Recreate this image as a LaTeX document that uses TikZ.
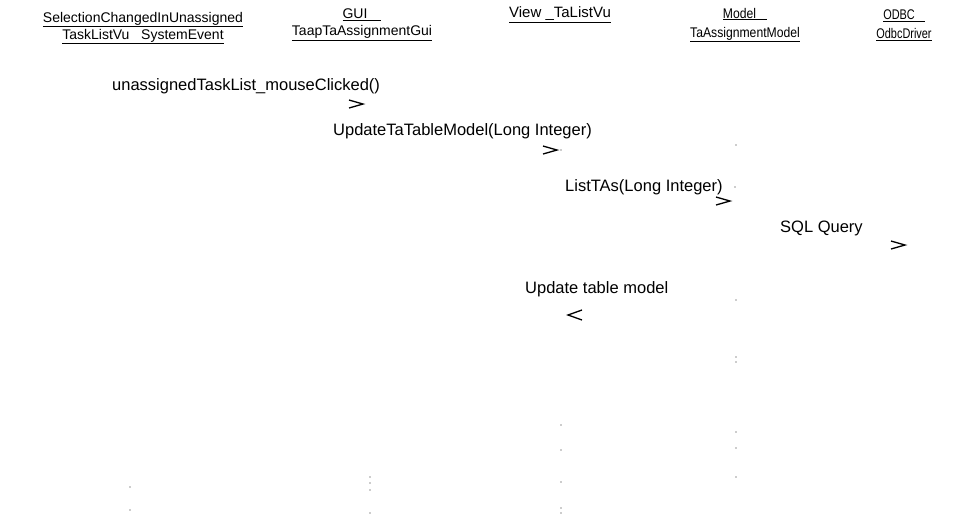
\documentclass[tikz,border=0pt]{standalone}
\usepackage{fontspec}
\setmainfont{Liberation Sans}
\usetikzlibrary{positioning}

\tikzset{
  lifehead/.style={align=center, inner sep=0pt, font=\fontsize{14}{17}\selectfont},
  msglabel/.style={anchor=west, inner sep=0pt, font=\fontsize{16.5}{19}\selectfont},
  msgtip/.style={line width=1.3pt, line join=miter},
  lifedot/.style={fill=black!40}
}

\begin{document}
\begin{tikzpicture}[x=1pt, y=-1pt]
  \useasboundingbox (0,0) rectangle (958,520);

  % Object headers
  \node[lifehead] (sysevent) at (143,28) {\underline{SelectionChangedInUnassigned}\\\underline{TaskListVu\ \ \ SystemEvent}};
  \node[lifehead] (gui) at (362,25) {\underline{GUI\hspace{1em}}\\\underline{TaapTaAssignmentGui}};
  \node[lifehead, font=\fontsize{15}{17}\selectfont] (view) at (560,15) {\underline{View \_TaListVu}};
  \node[lifehead, font=\fontsize{14}{19}\selectfont] (model) at (745,25) {\scalebox{0.87}[1]{\underline{Model\hspace{0.9em}}}\\\scalebox{0.87}[1]{\underline{TaAssignmentModel}}};
  \node[lifehead, font=\fontsize{14}{19}\selectfont] (odbc) at (904,25) {\scalebox{0.78}[1]{\underline{ODBC\hspace{0.9em}}}\\\scalebox{0.78}[1]{\underline{OdbcDriver}}};

  % Message labels
  \node[msglabel] (clicked) at (112,86) {unassignedTaskList\_mouseClicked()};
  \node[msglabel] (update) at (333,131) {UpdateTaTableModel(Long Integer)};
  \node[msglabel] (listtas) at (565,187) {ListTAs(Long Integer)};
  \node[msglabel] (sql) at (780,228) {SQL Query};
  \node[msglabel] (reply) at (525,289) {Update table model};

  % Arrow heads (the shafts have faded away)
  \coordinate (t1) at (363,104);
  \coordinate (t2) at (557,150);
  \coordinate (t3) at (730,201);
  \coordinate (t4) at (905,245);
  \coordinate (t5) at (568,315);
  \foreach \t in {t1,t2,t3,t4}
    \draw[msgtip] (\t) ++(-14,-4) -- (\t) -- ++(-14,4);
  \draw[msgtip] (t5) ++(14,-5) -- (t5) -- ++(14,5);

  % What is left of the lifelines
  \foreach \p in {(130,487),(130,510),(370,477),(370,483),(370,490),(370,513),
                  (561,150),(561,425),(561,450),(561,482),(561,508),(561,513),
                  (736,145),(735,187),(736,300),(736,357),(736,362),
                  (736,432),(736,448),(736,477)}
    \fill[lifedot] \p circle (0.8);
\end{tikzpicture}
\end{document}
